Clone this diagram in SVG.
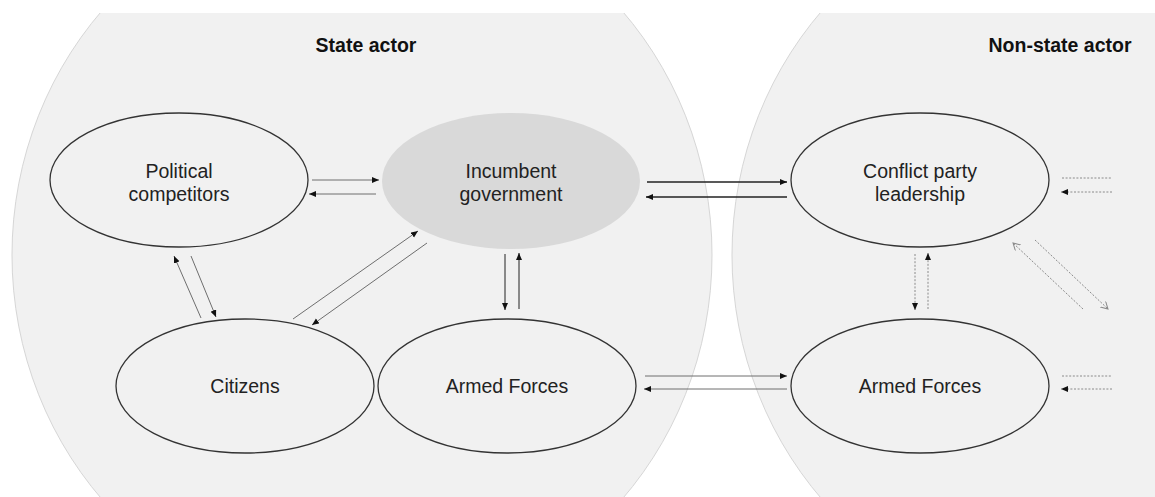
<svg xmlns="http://www.w3.org/2000/svg" width="1155" height="497" viewBox="0 0 1155 497">
  <style>
    .region { fill: #f1f1f1; stroke: #d6d6d6; stroke-width: 1; }
    .node { fill: none; stroke: #333333; stroke-width: 1.3; }
    .gov { fill: #d9d9d9; stroke: none; }
    .label { font-family: "Liberation Sans", Arial, sans-serif; font-size: 19.5px; fill: #222222; text-anchor: middle; }
    .title { font-family: "Liberation Sans", Arial, sans-serif; font-size: 19.5px; font-weight: bold; fill: #111111; text-anchor: middle; }
    .c-gray { stroke: #6e6e6e; stroke-width: 1; fill: none; }
    .c-dark { stroke: #222222; stroke-width: 1.3; fill: none; }
    .c-dot { stroke: #8a8a8a; stroke-width: 1; stroke-dasharray: 2 1.6; fill: none; }
  </style>
  <defs>
    <clipPath id="clip">
      <rect x="0" y="13" width="1155" height="484"/>
    </clipPath>
    <marker id="ah" markerUnits="userSpaceOnUse" markerWidth="8" markerHeight="7" refX="7" refY="3" orient="auto">
      <path d="M0,0 L7,3 L0,6 z" fill="#111111"/>
    </marker>
    <marker id="ao" markerUnits="userSpaceOnUse" markerWidth="9" markerHeight="9" refX="7" refY="4" orient="auto">
      <path d="M0,0 L7,4 L0,8" fill="none" stroke="#888888" stroke-width="1"/>
    </marker>
  </defs>

  <g id="regions" clip-path="url(#clip)">
    <ellipse class="region" cx="362" cy="255" rx="350" ry="365"/>
    <ellipse class="region" cx="1082" cy="255" rx="350" ry="365"/>
  </g>

  <g id="titles">
    <text class="title" x="366" y="52">State actor</text>
    <text class="title" x="1060" y="52">Non-state actor</text>
  </g>

  <g id="connectors">
    <!-- Political <-> Incumbent -->
    <line class="c-gray" x1="312" y1="180" x2="379" y2="180" marker-end="url(#ah)"/>
    <line class="c-gray" x1="376" y1="194" x2="309" y2="194" marker-end="url(#ah)"/>
    <!-- Incumbent <-> Conflict party leadership -->
    <line class="c-dark" x1="647" y1="182" x2="787" y2="182" marker-end="url(#ah)"/>
    <line class="c-dark" x1="787" y1="197" x2="646" y2="197" marker-end="url(#ah)"/>
    <!-- State Armed Forces <-> Non-state Armed Forces -->
    <line class="c-gray" x1="645" y1="376" x2="787" y2="376" marker-end="url(#ah)"/>
    <line class="c-gray" x1="787" y1="389" x2="644" y2="389" marker-end="url(#ah)"/>
    <!-- Incumbent <-> State Armed Forces -->
    <line class="c-dark" x1="505" y1="254" x2="505" y2="310" marker-end="url(#ah)" style="stroke-width:1"/>
    <line class="c-dark" x1="519" y1="309" x2="519" y2="253" marker-end="url(#ah)" style="stroke-width:1"/>
    <!-- Citizens <-> Political -->
    <line class="c-gray" x1="201" y1="318" x2="174" y2="256" marker-end="url(#ah)"/>
    <line class="c-gray" x1="191" y1="256" x2="216" y2="317" marker-end="url(#ah)"/>
    <!-- Citizens <-> Incumbent -->
    <line class="c-gray" x1="293" y1="319" x2="418" y2="231" marker-end="url(#ah)"/>
    <line class="c-gray" x1="427" y1="243" x2="312" y2="325" marker-end="url(#ah)"/>
    <!-- Non-state leadership <-> Non-state armed forces -->
    <line class="c-dot" x1="915" y1="254" x2="915" y2="310" marker-end="url(#ah)"/>
    <line class="c-dot" x1="928" y1="309" x2="928" y2="253" marker-end="url(#ah)"/>
    <!-- Diagonal dotted, open heads -->
    <line class="c-dot" x1="1083" y1="309" x2="1013" y2="243" marker-end="url(#ao)"/>
    <line class="c-dot" x1="1035" y1="240" x2="1108" y2="309" marker-end="url(#ao)"/>
    <!-- Right dotted stubs -->
    <line class="c-dot" x1="1062" y1="178" x2="1112" y2="178"/>
    <line class="c-dot" x1="1112" y1="192" x2="1061" y2="192" marker-end="url(#ah)"/>
    <line class="c-dot" x1="1062" y1="376" x2="1112" y2="376"/>
    <line class="c-dot" x1="1112" y1="389" x2="1061" y2="389" marker-end="url(#ah)"/>
  </g>

  <g id="node-political">
    <ellipse class="node" cx="179" cy="180" rx="129" ry="67"/>
    <text class="label" x="179" y="178">Political</text>
    <text class="label" x="179" y="201">competitors</text>
  </g>
  <g id="node-incumbent">
    <ellipse class="gov" cx="511" cy="181" rx="129" ry="68"/>
    <text class="label" x="511" y="178">Incumbent</text>
    <text class="label" x="511" y="201">government</text>
  </g>
  <g id="node-citizens">
    <ellipse class="node" cx="245" cy="386" rx="129" ry="67"/>
    <text class="label" x="245" y="393">Citizens</text>
  </g>
  <g id="node-state-armed">
    <ellipse class="node" cx="507" cy="386" rx="129" ry="67"/>
    <text class="label" x="507" y="393">Armed Forces</text>
  </g>
  <g id="node-leadership">
    <ellipse class="node" cx="920" cy="180" rx="129" ry="67"/>
    <text class="label" x="920" y="178">Conflict party</text>
    <text class="label" x="920" y="201">leadership</text>
  </g>
  <g id="node-nonstate-armed">
    <ellipse class="node" cx="920" cy="386" rx="129" ry="67"/>
    <text class="label" x="920" y="393">Armed Forces</text>
  </g>
</svg>
